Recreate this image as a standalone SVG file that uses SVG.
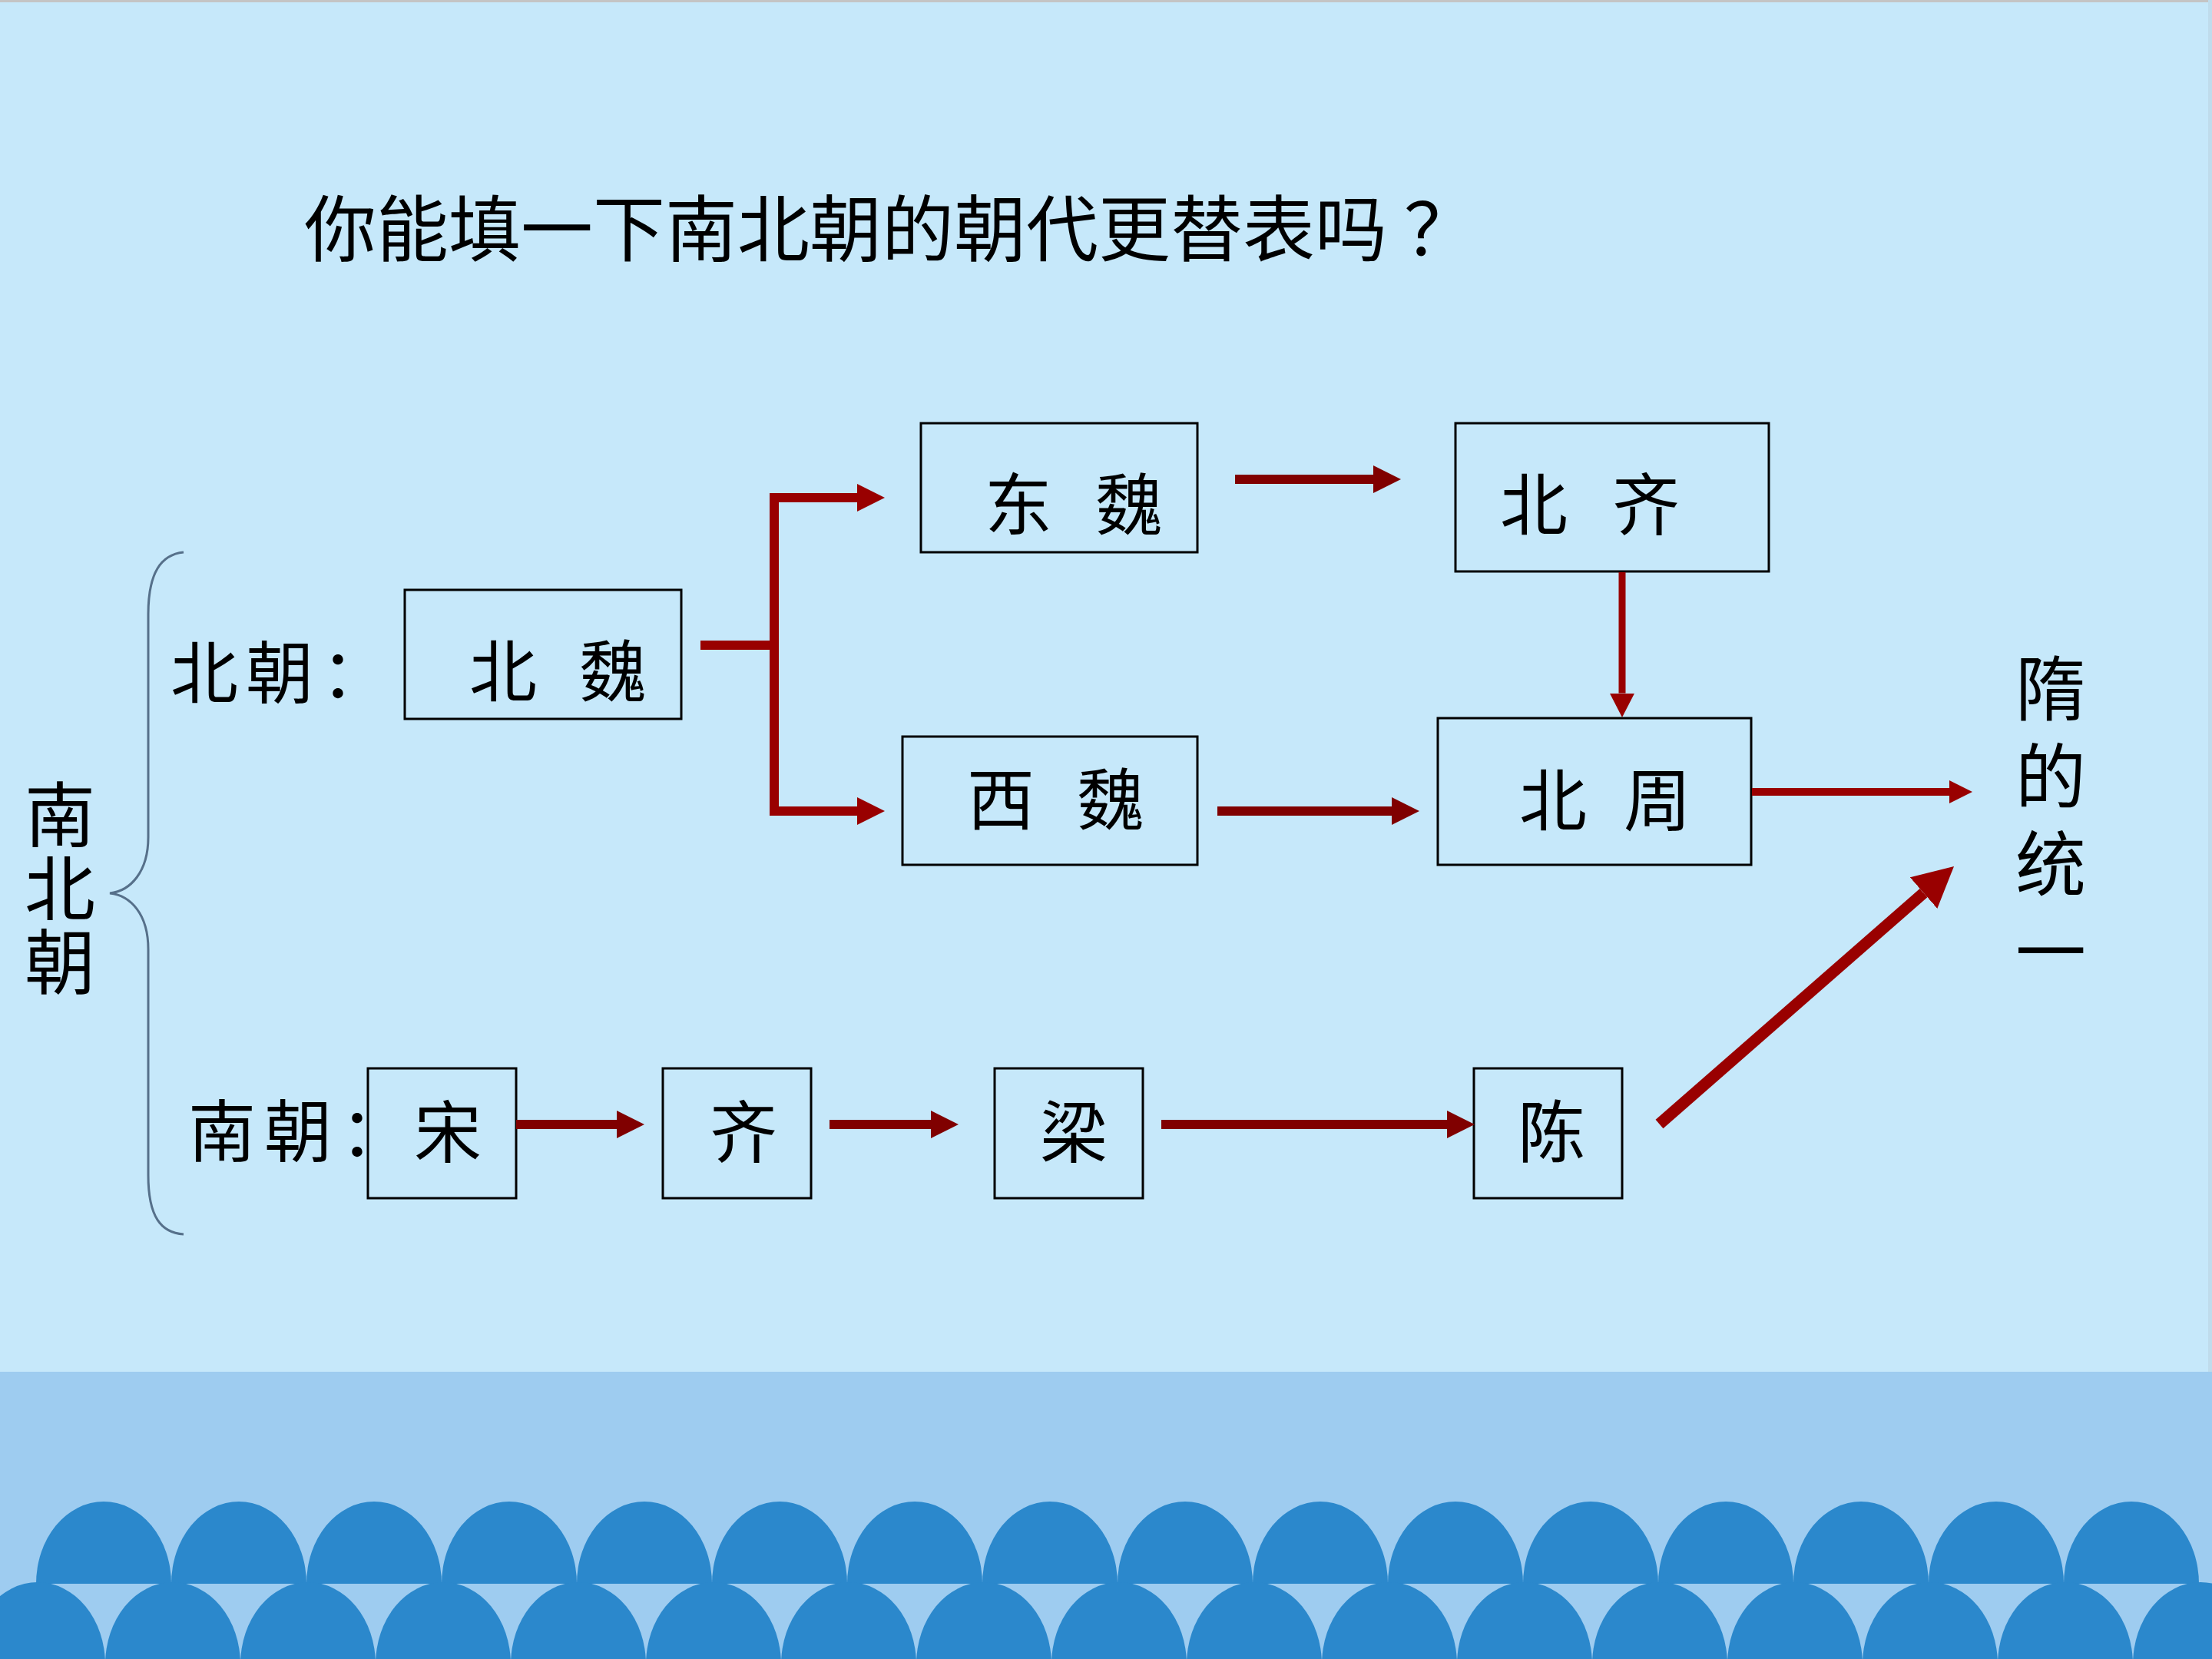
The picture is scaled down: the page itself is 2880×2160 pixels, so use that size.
<svg xmlns="http://www.w3.org/2000/svg" xmlns:xlink="http://www.w3.org/1999/xlink" width="2880" height="2160" viewBox="0 0 2880 2160">
<style>
.box{fill:none;stroke:#000;stroke-width:3}
.t{font-family:"Noto Sans CJK SC","Noto Sans CJK JP",sans-serif;fill:#000;text-anchor:middle}
.s{font-family:"Noto Sans CJK SC","Noto Sans CJK JP",sans-serif;fill:#000}
.lbl{font-size:88px}
.big{font-size:92px}
.vert{writing-mode:vertical-rl;text-orientation:upright}
.title{font-family:"Noto Sans CJK SC","Noto Sans CJK JP",sans-serif;font-size:94px;fill:#000}
.red{fill:none;stroke:#990000;stroke-linejoin:miter}
.dark{fill:none;stroke:#800000}
.dome{fill:#2B88CC}
</style>
<defs>
<marker id="hr" viewBox="0 0 3 3" refX="0" refY="1.5" markerWidth="3" markerHeight="3" markerUnits="strokeWidth" orient="auto"><path d="M0,0 L3,1.5 L0,3 Z" fill="#990000"/></marker>
<marker id="hd" viewBox="0 0 3 3" refX="0" refY="1.5" markerWidth="3" markerHeight="3" markerUnits="strokeWidth" orient="auto"><path d="M0,0 L3,1.5 L0,3 Z" fill="#800000"/></marker>
<marker id="hb" viewBox="0 0 3.5 3.6" refX="0" refY="1.8" markerWidth="3.5" markerHeight="3.6" markerUnits="strokeWidth" orient="auto"><path d="M0,0 L3.5,1.8 L0,3.6 Z" fill="#990000"/></marker>
<path id="dome" d="M-88,0 A88,107 0 0 1 88,0 Z"/>
</defs>

<g id="background">
<rect x="0" y="0" width="2880" height="2160" fill="#C6E8FA"/>
<rect x="0" y="0" width="2880" height="3" fill="#C4C4C4"/>
<rect x="2875" y="0" width="5" height="1786" fill="#BFDCEC"/>
<rect x="0" y="1786" width="2880" height="374" fill="#9ECCF0"/>
<g class="dome">
<use xlink:href="#dome" x="135" y="2062"/><use xlink:href="#dome" x="311" y="2062"/><use xlink:href="#dome" x="487" y="2062"/><use xlink:href="#dome" x="663" y="2062"/>
<use xlink:href="#dome" x="839" y="2062"/><use xlink:href="#dome" x="1015" y="2062"/><use xlink:href="#dome" x="1191" y="2062"/><use xlink:href="#dome" x="1367" y="2062"/>
<use xlink:href="#dome" x="1543" y="2062"/><use xlink:href="#dome" x="1719" y="2062"/><use xlink:href="#dome" x="1895" y="2062"/><use xlink:href="#dome" x="2071" y="2062"/>
<use xlink:href="#dome" x="2247" y="2062"/><use xlink:href="#dome" x="2423" y="2062"/><use xlink:href="#dome" x="2599" y="2062"/><use xlink:href="#dome" x="2775" y="2062"/>
<use xlink:href="#dome" x="49" y="2167"/><use xlink:href="#dome" x="225" y="2167"/><use xlink:href="#dome" x="401" y="2167"/><use xlink:href="#dome" x="577" y="2167"/>
<use xlink:href="#dome" x="753" y="2167"/><use xlink:href="#dome" x="929" y="2167"/><use xlink:href="#dome" x="1105" y="2167"/><use xlink:href="#dome" x="1281" y="2167"/>
<use xlink:href="#dome" x="1457" y="2167"/><use xlink:href="#dome" x="1633" y="2167"/><use xlink:href="#dome" x="1809" y="2167"/><use xlink:href="#dome" x="1985" y="2167"/>
<use xlink:href="#dome" x="2161" y="2167"/><use xlink:href="#dome" x="2337" y="2167"/><use xlink:href="#dome" x="2513" y="2167"/><use xlink:href="#dome" x="2689" y="2167"/>
<use xlink:href="#dome" x="2865" y="2167"/>
</g>
</g>

<text class="title" x="396" y="333">你能填一下南北朝的朝代更替表吗<tspan dx="22">？</tspan></text>

<g id="brace">
<path d="M239,719 C210,722 193,745 193,800 L193,1090 C193,1135 170,1160 143,1163 C170,1166 193,1190 193,1236 L193,1530 C193,1585 210,1605 239,1607" fill="none" stroke="#56708A" stroke-width="3"/>
<text class="s big vert" x="78" y="1014" letter-spacing="4">南北朝</text>
</g>

<g id="label-north"><text class="s lbl" x="222" y="908" letter-spacing="10">北朝：</text></g>
<g id="label-south"><text class="s lbl" x="245" y="1505" letter-spacing="11">南朝：</text></g>

<g id="node-beiwei"><rect class="box" x="527" y="768" width="360" height="168"/><text class="t lbl"><tspan x="655" y="906">北</tspan><tspan x="798" y="906">魏</tspan></text></g>
<g id="node-dongwei"><rect class="box" x="1199" y="551" width="360" height="168"/><text class="t lbl"><tspan x="1326" y="689">东</tspan><tspan x="1470" y="689">魏</tspan></text></g>
<g id="node-beiqi"><rect class="box" x="1895" y="551" width="408" height="193"/><text class="t lbl"><tspan x="1997" y="689">北</tspan><tspan x="2143" y="689">齐</tspan></text></g>
<g id="node-xiwei"><rect class="box" x="1175" y="959" width="384" height="167"/><text class="t lbl"><tspan x="1303" y="1073">西</tspan><tspan x="1446" y="1073">魏</tspan></text></g>
<g id="node-beizhou"><rect class="box" x="1872" y="935" width="408" height="191"/><text class="t lbl"><tspan x="2022" y="1074">北</tspan><tspan x="2158" y="1074">周</tspan></text></g>
<g id="node-song"><rect class="box" x="479" y="1391" width="193" height="169"/><text class="t lbl" x="583" y="1506">宋</text></g>
<g id="node-qi"><rect class="box" x="863" y="1391" width="193" height="169"/><text class="t lbl" x="968" y="1506">齐</text></g>
<g id="node-liang"><rect class="box" x="1295" y="1391" width="193" height="169"/><text class="t lbl" x="1398" y="1506">梁</text></g>
<g id="node-chen"><rect class="box" x="1919" y="1391" width="193" height="169"/><text class="t lbl" x="2020" y="1506">陈</text></g>

<g id="node-sui"><text class="s big vert" x="2670" y="850" letter-spacing="22">隋的统一</text></g>

<g id="connectors">
<path class="red" stroke-width="12" d="M912,840 H1008"/>
<path class="red" stroke-width="12" d="M1008,840 V648 H1116" marker-end="url(#hr)"/>
<path class="red" stroke-width="12" d="M1008,840 V1056 H1116" marker-end="url(#hr)"/>
<path class="dark" stroke-width="12" d="M1608,624 H1788" marker-end="url(#hd)"/>
<path class="dark" stroke-width="12" d="M1585,1056 H1812" marker-end="url(#hd)"/>
<path class="red" stroke-width="9" d="M2112,745 V902.5" marker-end="url(#hb)"/>
<path class="red" stroke-width="10" d="M2281,1031 H2538" marker-end="url(#hr)"/>
<path class="dark" stroke-width="12" d="M672,1464 H803" marker-end="url(#hd)"/>
<path class="dark" stroke-width="12" d="M1080,1464 H1212" marker-end="url(#hd)"/>
<path class="dark" stroke-width="12" d="M1512,1464 H1884" marker-end="url(#hd)"/>
<path class="red" stroke-width="15" d="M2160.5,1463.5 L2504.5,1162.6" marker-end="url(#hb)"/>
</g>
</svg>
